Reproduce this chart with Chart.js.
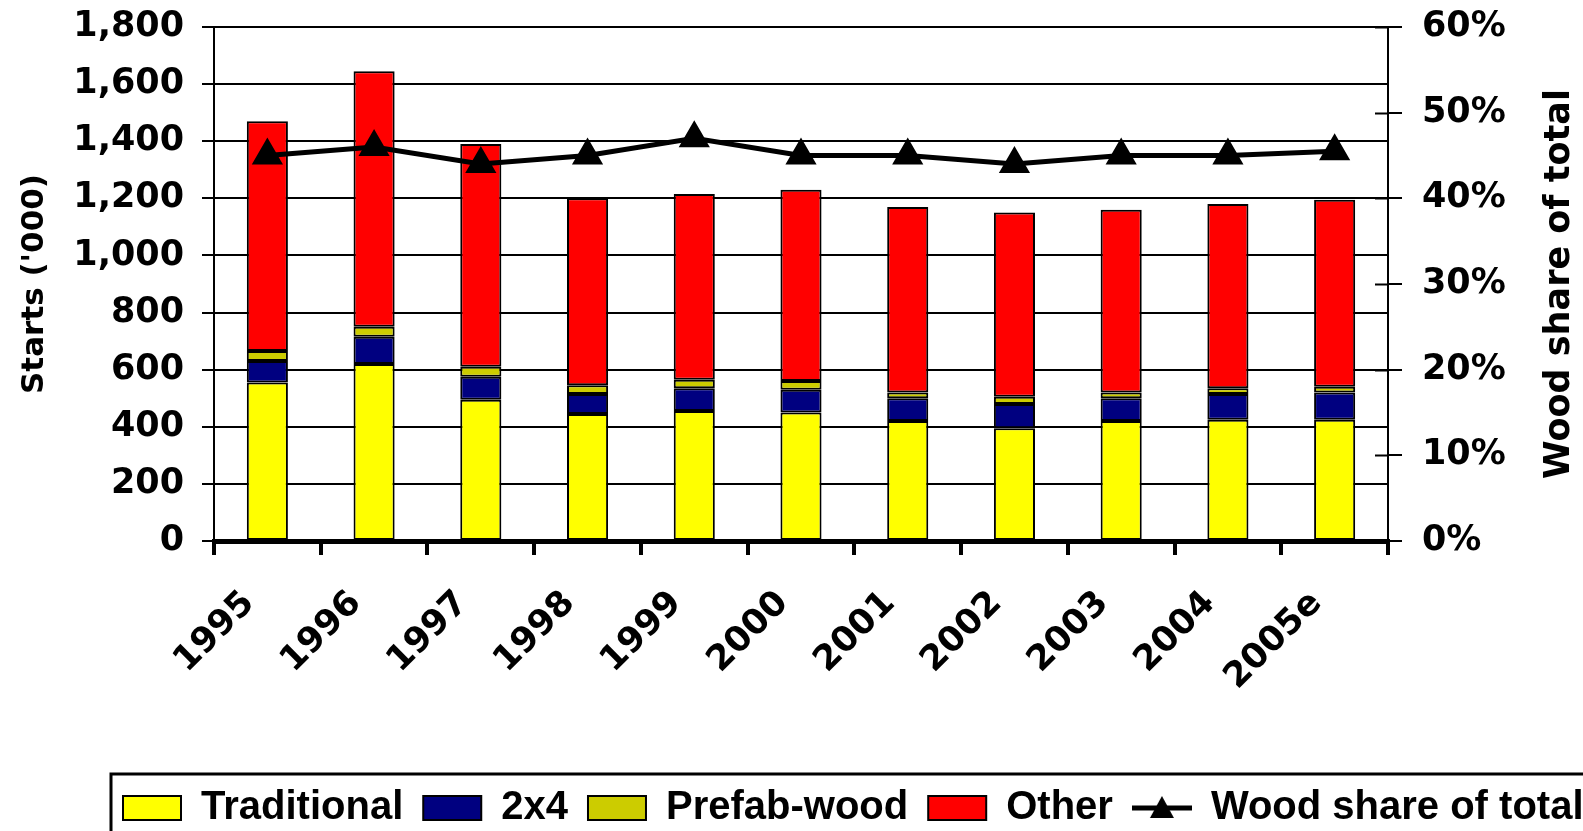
<!DOCTYPE html>
<html>
<head>
<meta charset="utf-8">
<script src="https://cdn.jsdelivr.net/npm/chart.js@4"></script>
<style>
  html, body { margin: 0; padding: 0; background: #fff; overflow: hidden; }
  #clip { width: 1583px; height: 831px; overflow: hidden; position: relative; }
  #wrap { width: 1750px; height: 831px; position: relative; }
</style>
</head>
<body>
<div id="clip"><div id="wrap"><canvas id="startsChart"></canvas></div></div>
<script>
// ---- data ----
const years = ["1995", "1996", "1997", "1998", "1999", "2000", "2001", "2002", "2003", "2004", "2005e"];
const traditional = [555, 620, 495, 445, 455, 450, 420, 395, 420, 425, 425];
const twoByFour = [75, 95, 80, 70, 80, 80, 80, 85, 80, 90, 95];
const prefabWood = [35, 35, 35, 30, 30, 30, 20, 25, 20, 20, 20];
const other = [805, 895, 780, 655, 650, 670, 650, 645, 640, 645, 655];
const woodShare = [0.45, 0.46, 0.44, 0.45, 0.47, 0.45, 0.45, 0.44, 0.45, 0.45, 0.455];
const startsTicks = { min: 0, max: 1800, step: 200 };
const shareTicks = { min: 0, max: 0.6, step: 0.1 };
const rightTitle = "Wood share of total";

const FULL_W = 1750;
const PLOT_LEFT = 214, PLOT_RIGHT = 1388, PLOT_BOTTOM = 541;
const fontFam = "'DejaVu Sans', Verdana, sans-serif";
const tickFont = { family: fontFam, size: 35, weight: "bold" };

// legend icon for the line series: line with triangle marker
function lineIcon() {
    const c = document.createElement("canvas");
    c.width = 60; c.height = 28;
    const g = c.getContext("2d");
    g.strokeStyle = "#000"; g.lineWidth = 5;
    g.beginPath(); g.moveTo(0, 14); g.lineTo(60, 14); g.stroke();
    g.fillStyle = "#000";
    g.beginPath(); g.moveTo(30, 2); g.lineTo(42, 24); g.lineTo(18, 24); g.closePath(); g.fill();
    return c;
}
const lineLegendIcon = lineIcon();

// vertical axes: no extra room above/below for the end labels
function noEndPadding(scale) {
    scale.paddingTop = 0;
    scale.paddingBottom = 0;
}

// legend placement + frame, right-hand axis title reading upwards, inner half of right ticks
const extras = {
    id: "extras",
    afterLayout(chart) {
        chart.legend.left = 103;
        chart.legend.top = 768;
    },
    afterDraw(chart) {
        const ctx = chart.ctx;
        const lg = chart.legend;
        const y1 = chart.scales.y1;
        const area = chart.chartArea;
        ctx.save();
        ctx.strokeStyle = "#000";
        ctx.lineWidth = 3;
        ctx.strokeRect(lg.left + 8, lg.top + 6, 3000, 300);

        // cross ticks on the right axis
        ctx.lineWidth = 2;
        ctx.beginPath();
        y1.ticks.forEach(t => {
            const py = Math.round(y1.getPixelForValue(t.value)) + 0.5;
            ctx.moveTo(area.right - 13, py);
            ctx.lineTo(area.right, py);
        });
        ctx.stroke();

        ctx.fillStyle = "#000";
        ctx.font = "bold 35px " + fontFam;
        ctx.textAlign = "center";
        ctx.textBaseline = "middle";
        ctx.translate(area.right + 172, (area.top + area.bottom) / 2);
        ctx.rotate(-Math.PI / 2);
        ctx.fillText(rightTitle, 0, 0);
        ctx.restore();
    }
};

function barSet(label, data, color) {
    return {
        type: "bar",
        label: label,
        data: data,
        backgroundColor: color,
        borderColor: "#000",
        borderWidth: 2,
        borderSkipped: false,
        pointStyle: "rect",
        yAxisID: "y",
        order: 1,
        categoryPercentage: 1,
        barPercentage: 0.385
    };
}

new Chart(document.getElementById("startsChart"), {
    data: {
        labels: years,
        datasets: [
            barSet("Traditional", traditional, "#FFFF00"),
            barSet("2x4", twoByFour, "#000080"),
            barSet("Prefab-wood", prefabWood, "#CCCC00"),
            barSet("Other", other, "#FF0000"),
            {
                type: "line",
                label: rightTitle,
                data: woodShare,
                yAxisID: "y1",
                borderColor: "#000",
                backgroundColor: "#000",
                borderWidth: 5,
                pointStyle: "triangle",
                pointRadius: 13,
                pointBackgroundColor: "#000",
                pointBorderColor: "#000",
                tension: 0,
                order: 0
            }
        ]
    },
    options: {
        responsive: true,
        maintainAspectRatio: false,
        animation: false,
        layout: { padding: { top: 27, left: 0, right: 0, bottom: 0 } },
        plugins: {
            tooltip: { enabled: false },
            legend: {
                position: "bottom",
                align: "start",
                labels: {
                    color: "#000",
                    font: { family: "'Liberation Sans', Arial, sans-serif", size: 40, weight: "bold" },
                    usePointStyle: true,
                    pointStyleWidth: 58,
                    boxHeight: 24,
                    padding: 20,
                    sort: (a, b) => a.datasetIndex - b.datasetIndex,
                    generateLabels(chart) {
                        const items = Chart.defaults.plugins.legend.labels.generateLabels(chart);
                        items.forEach(it => {
                            if (it.datasetIndex === 4) {
                                it.pointStyle = lineLegendIcon;
                            } else {
                                it.pointStyle = "rect";
                                it.lineWidth = 2;
                                it.strokeStyle = "#000";
                            }
                        });
                        return items;
                    }
                }
            }
        },
        scales: {
            x: {
                stacked: true,
                offset: true,
                afterFit(scale) { scale.height = 831 - PLOT_BOTTOM - scale.chart.legend.height; },
                border: { display: true, color: "#000", width: 5 },
                grid: { display: true, offset: true, drawOnChartArea: false, color: "#000", lineWidth: 4, tickLength: 14 },
                ticks: { color: "#000", font: tickFont, minRotation: 45, maxRotation: 45, autoSkip: false, padding: 28, labelOffset: -18 }
            },
            y: {
                stacked: true,
                position: "left",
                min: startsTicks.min,
                max: startsTicks.max,
                afterFit(scale) { scale.width = PLOT_LEFT; noEndPadding(scale); },
                border: { display: true, color: "#000", width: 2 },
                grid: { color: "#000", lineWidth: 2, tickLength: 12 },
                ticks: {
                    stepSize: startsTicks.step,
                    color: "#000",
                    font: tickFont,
                    padding: 18,
                    callback: v => v.toLocaleString("en-US")
                },
                title: {
                    display: true,
                    text: "Starts ('000)",
                    color: "#000",
                    font: { family: fontFam, size: 31, weight: "bold" },
                    padding: { top: 16, bottom: 0 }
                }
            },
            y1: {
                position: "right",
                min: shareTicks.min,
                max: shareTicks.max,
                afterFit(scale) { scale.width = FULL_W - PLOT_RIGHT; noEndPadding(scale); },
                border: { display: true, color: "#000", width: 2 },
                grid: { drawOnChartArea: false, color: "#000", lineWidth: 2, tickLength: 14 },
                ticks: {
                    stepSize: shareTicks.step,
                    color: "#000",
                    font: tickFont,
                    padding: 20,
                    callback: v => Math.round(v * 100) + "%"
                }
            }
        }
    },
    plugins: [extras]
});
</script>
</body>
</html>
